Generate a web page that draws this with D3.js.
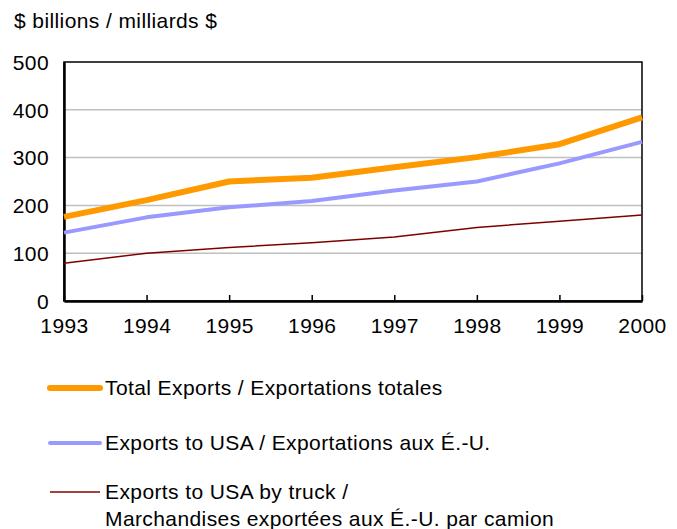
<!DOCTYPE html>
<html>
<head>
<meta charset="utf-8">
<script src="https://d3js.org/d3.v7.min.js"></script>
<style>
  body { margin: 0; background: #fff; }
  text { font-family: "Liberation Sans", Arial, sans-serif; fill: #000; letter-spacing: 0.4px; }
</style>
</head>
<body>
<div id="chart"></div>
<script>
// data
var years = [1993, 1994, 1995, 1996, 1997, 1998, 1999, 2000];
var totalExports = [176, 211, 250, 258, 280, 301, 328, 384];
var exportsUSA = [143, 175, 196, 209, 231, 250, 288, 333];
var exportsTruck = [79, 100, 112, 122, 134, 154, 167, 180];
var yTicks = [0, 100, 200, 300, 400, 500];

var series = [
  { name: "Total Exports / Exportations totales", values: totalExports, color: "#ff9900", width: 6 },
  { name: "Exports to USA / Exportations aux É.-U.", values: exportsUSA, color: "#9999ff", width: 4 },
  { name: "Exports to USA by truck /\nMarchandises exportées aux É.-U. par camion", values: exportsTruck, color: "#800000", width: 1.5 }
];

var W = 677, H = 529;
var fs = "21px";
var margin = { top: 62, right: 35, bottom: 228, left: 64 };
var width = W - margin.left - margin.right,
    height = H - margin.top - margin.bottom;

var svg = d3.select("#chart").append("svg")
  .attr("width", W).attr("height", H);

svg.append("text")
  .attr("x", 14).attr("y", 28)
  .style("font-size", fs)
  .text("$ billions / milliards $");

var g = svg.append("g")
  .attr("transform", "translate(" + margin.left + "," + margin.top + ")");

var x = d3.scalePoint().domain(years).range([0, width]);
var y = d3.scaleLinear().domain([0, 500]).range([height, 0]);

// gridlines
g.selectAll(".grid").data(yTicks.slice(1, -1)).enter().append("line")
  .attr("x1", 0).attr("x2", width)
  .attr("y1", function (d) { return y(d); }).attr("y2", function (d) { return y(d); })
  .attr("stroke", "#c0c0c0").attr("stroke-width", 1.5);

// frame
g.append("rect").attr("width", width).attr("height", height)
  .attr("fill", "none").attr("stroke", "#000").attr("stroke-width", 1.5);

// y axis
var yAxis = g.append("g")
  .call(d3.axisLeft(y).tickValues(yTicks).tickSize(0).tickPadding(15));
yAxis.select(".domain").attr("stroke", "#000").attr("stroke-width", 2.5);
yAxis.selectAll("text").style("font-size", fs).style("font-family", "Liberation Sans, Arial, sans-serif").attr("dy", "0.35em");

// x axis, ticks pointing up into the plot
var xAxis = g.append("g")
  .attr("transform", "translate(0," + height + ")")
  .call(d3.axisBottom(x).tickSizeInner(-6).tickSizeOuter(0).tickPadding(17));
xAxis.select(".domain").attr("stroke", "#000").attr("stroke-width", 2.5);
xAxis.selectAll(".tick line").attr("stroke", "#000").attr("stroke-width", 1.5);
xAxis.selectAll("text").style("font-size", fs).style("font-family", "Liberation Sans, Arial, sans-serif");

var line = d3.line()
  .x(function (d, i) { return x(years[i]); })
  .y(function (d) { return y(d); });

series.slice().reverse().forEach(function (s) {
  g.append("path")
    .datum(s.values)
    .attr("d", line)
    .attr("fill", "none")
    .attr("stroke", s.color)
    .attr("stroke-width", s.width)
    .attr("stroke-linejoin", "round");
});

// legend
var legendY = [388, 443, 492];
series.forEach(function (s, i) {
  var lg = svg.append("g").attr("transform", "translate(0," + legendY[i] + ")");
  lg.append("line")
    .attr("x1", 50).attr("x2", 100)
    .attr("stroke", s.color).attr("stroke-width", s.width)
    .attr("stroke-linecap", i == 2 ? "butt" : "round");
  var t = lg.append("text").attr("x", 105).attr("y", 7).style("font-size", fs);
  s.name.split("\n").forEach(function (part, j) {
    t.append("tspan").attr("x", 105).attr("dy", j == 0 ? 0 : 27).text(part);
  });
});
</script>
</body>
</html>
